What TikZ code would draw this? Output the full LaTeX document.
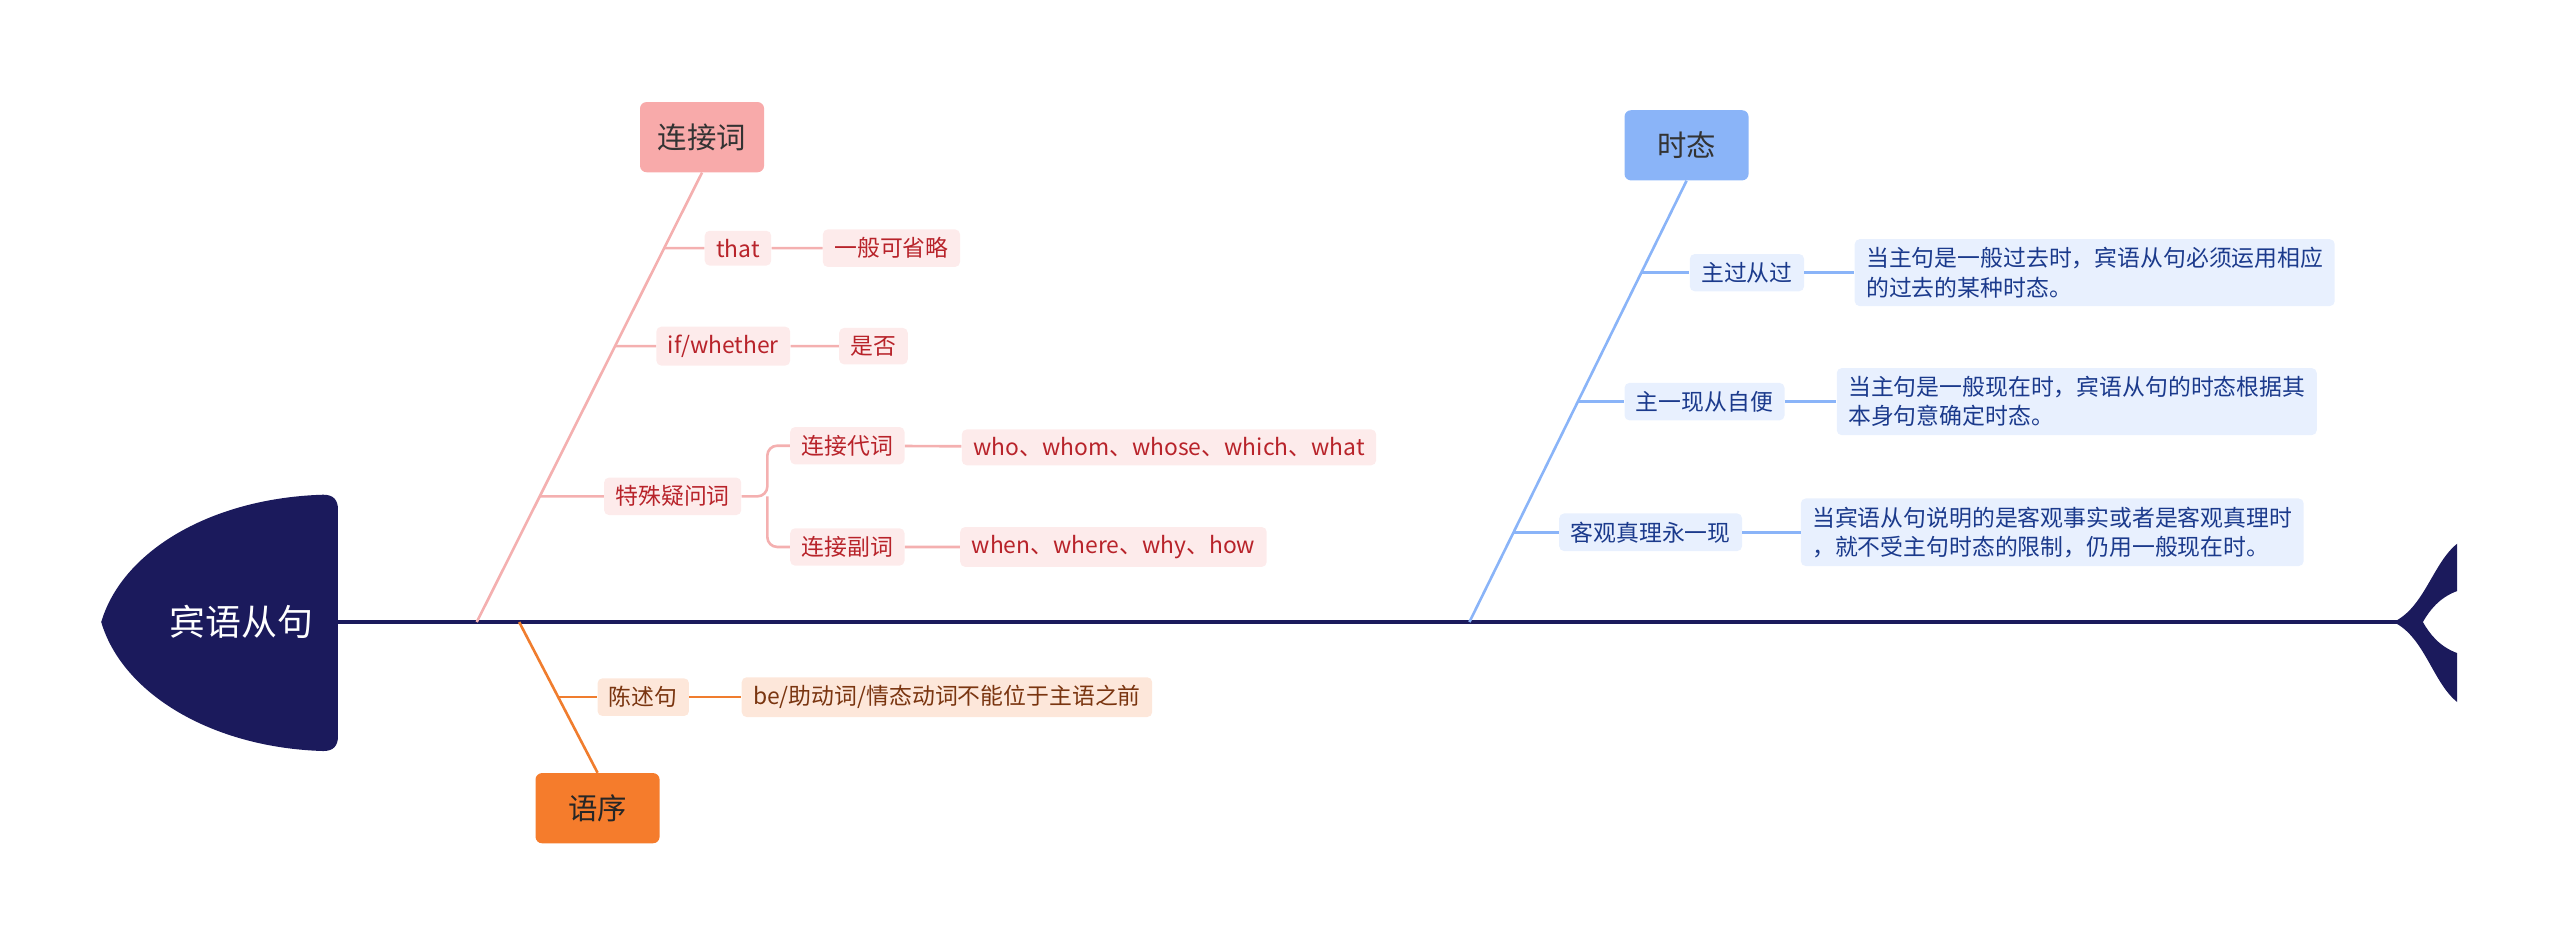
\documentclass[tikz,border=0pt]{standalone}
\usepackage{fontspec}
\setmainfont{Noto Sans CJK SC}
\definecolor{navy}{HTML}{1B1A5C}
\definecolor{pl}{HTML}{F4B0B0}\definecolor{pf}{HTML}{FDEBEB}\definecolor{pt}{HTML}{B8232A}\definecolor{pm}{HTML}{F8AAAA}
\definecolor{bl}{HTML}{8AB4F8}\definecolor{bf}{HTML}{E8F0FE}\definecolor{bt}{HTML}{1B3A8C}
\definecolor{ol}{HTML}{F07D2E}\definecolor{of}{HTML}{FDE7DA}\definecolor{ot}{HTML}{7A3510}\definecolor{om}{HTML}{F57C2C}
\tikzset{
 sub/.style={rounded corners=3pt,inner xsep=7pt,inner ysep=5pt,font=\fontsize{14}{18}\selectfont},
 pk/.style={sub,fill=pf,text=pt},
 bu/.style={sub,fill=bf,text=bt},
 og/.style={sub,fill=of,text=ot},
 mainb/.style={rounded corners=4pt,minimum height=43pt,minimum width=76pt,font=\fontsize{18}{20}\selectfont},
 pline/.style={draw=pl,line width=1.6pt},
 bline/.style={draw=bl,line width=1.6pt},
 oline/.style={draw=ol,line width=1.6pt},
}
\begin{document}
\begin{tikzpicture}[x=1pt,y=-1pt]
\useasboundingbox (0,0) rectangle (1568,579);
% head
\fill[navy] (198,303) .. controls (204,303) and (207,306) .. (207,312) -- (207,451) .. controls (207,457) and (204,460) .. (198,460)
 .. controls (130,458) and (75,425) .. (62,381) .. controls (75,337) and (130,305) .. (198,303) -- cycle;
\node[text=white,font=\fontsize{22}{24}\selectfont] (head) at (148,381) {宾语从句};
% spine
\coordinate (s0) at (207,381); \coordinate (s1) at (1470,381);
\draw[navy,line width=2.4pt] (s0) -- (s1);
% tail
\fill[navy] (1466,381) .. controls (1485,372) and (1490,345) .. (1505,333) -- (1505,362) .. controls (1494,366) and (1488,374) .. (1484,381)
 .. controls (1488,388) and (1494,396) .. (1505,400) -- (1505,430) .. controls (1490,418) and (1485,390) .. (1466,381) -- cycle;
% main boxes
\node[mainb,fill=pm,text=black!80] (lj) at (430,84) {连接词};
\node[mainb,fill=bl,text=black!80] (ts) at (1033,89) {时态};
\node[mainb,fill=om,text=black!85] (yx) at (366,495) {语序};
\coordinate (pb) at (292,381); \coordinate (bb) at (900,381); \coordinate (ob) at (318,381);
\draw[pline] (pb) -- (lj.south);
\draw[bline] (bb) -- (ts.south);
\draw[oline] (ob) -- (yx.north);
% pink
\coordinate (p1) at (406.5,152); \coordinate (p2) at (376.5,212); \coordinate (p3) at (330.5,304);
\node[pk] (that) at (452,152) {that};
\node[pk] (ybk) at (546,152) {一般可省略};
\node[pk] (ifw) at (443,212) {if/whether};
\node[pk] (sf) at (535,212) {是否};
\node[pk] (tsy) at (412,304) {特殊疑问词};
\node[pk] (ljd) at (519,273) {连接代词};
\node[pk] (ljf) at (519,335) {连接副词};
\node[pk] (who) at (716,274) {who、whom、whose、which、what};
\node[pk] (when) at (682,335) {when、where、why、how};
\draw[pline] (p1) -- (that) (that) -- (ybk) (p2) -- (ifw) (ifw) -- (sf) (p3) -- (tsy) (ljd) -- (who) (ljf) -- (when);
\draw[pline,rounded corners=6pt] (tsy.east) -- (470,304) |- (ljd.west);
\draw[pline,rounded corners=6pt] (470,304) |- (ljf.west);
% blue
\coordinate (b1) at (1005,167); \coordinate (b2) at (966.5,246); \coordinate (b3) at (927,326);
\node[bu] (zg) at (1070,167) {主过从过};
\node[bu,align=left] (zgt) at (1283,167) {当主句是一般过去时，宾语从句必须运用相应\\的过去的某种时态。};
\node[bu] (zx) at (1044,246) {主一现从自便};
\node[bu,align=left] (zxt) at (1272,246) {当主句是一般现在时，宾语从句的时态根据其\\本身句意确定时态。};
\node[bu] (kg) at (1011,326) {客观真理永一现};
\node[bu,align=left] (kgt) at (1257,326) {当宾语从句说明的是客观事实或者是客观真理时\\，就不受主句时态的限制，仍用一般现在时。};
\draw[bline] (b1) -- (zg) (zg) -- (zgt) (b2) -- (zx) (zx) -- (zxt) (b3) -- (kg) (kg) -- (kgt);
% orange
\coordinate (o1) at (342,427);
\node[og] (cs) at (394,427) {陈述句};
\node[og] (be) at (580,427) {be/助动词/情态动词不能位于主语之前};
\draw[oline] (o1) -- (cs) (cs) -- (be);
\end{tikzpicture}
\end{document}
